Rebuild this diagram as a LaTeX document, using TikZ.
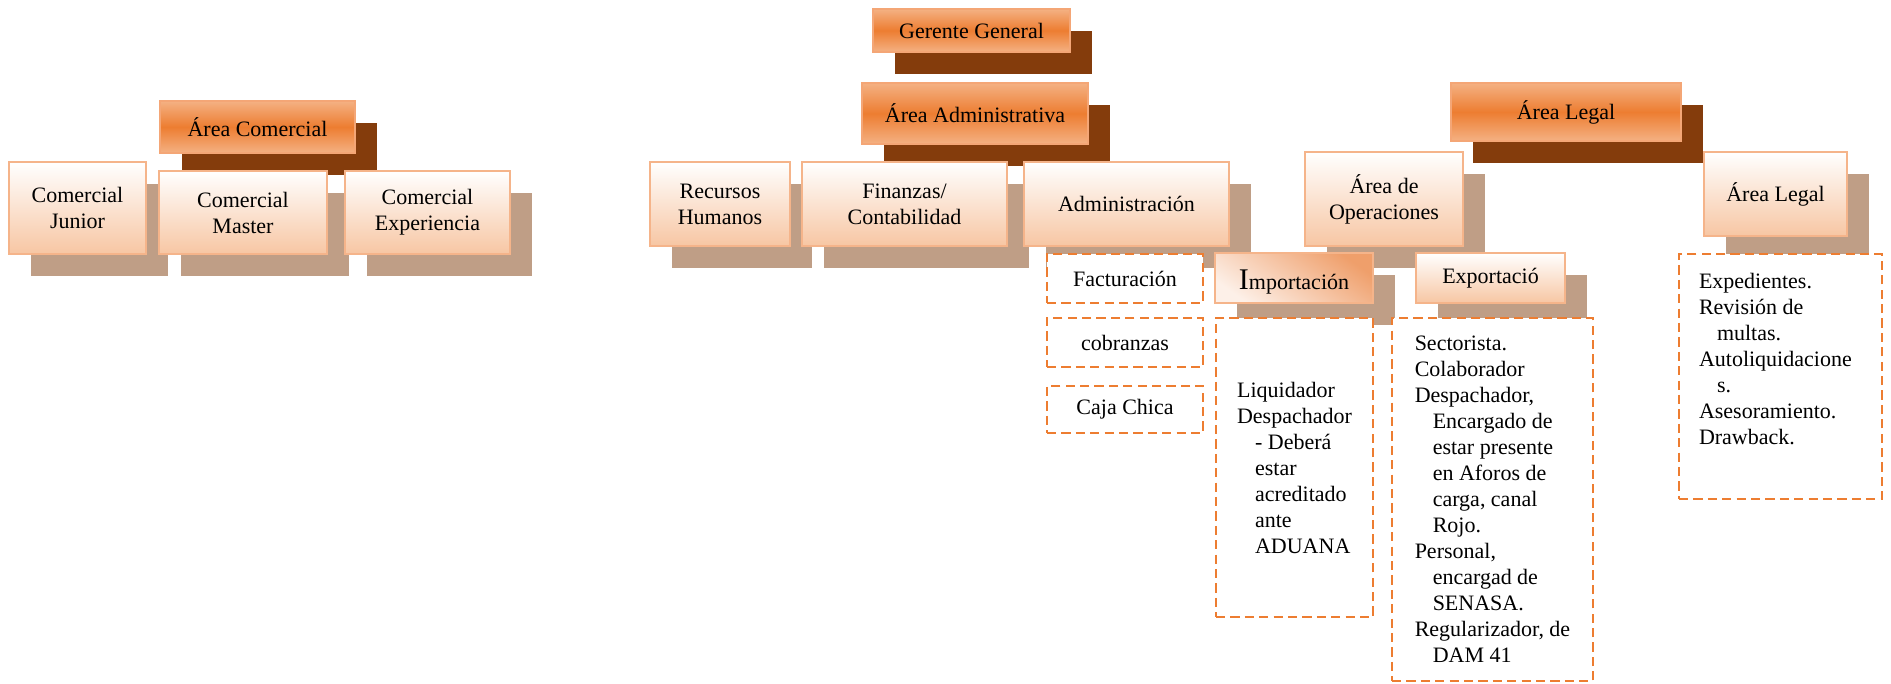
\documentclass[tikz,border=0pt]{standalone}
\usepackage{fontspec}
\setmainfont{Liberation Serif}
\usetikzlibrary{backgrounds}
\definecolor{hdrlight}{HTML}{F4B183}
\definecolor{hdrmid}{HTML}{ED7D31}
\definecolor{hdrline}{HTML}{F4A676}
\definecolor{subline}{HTML}{F5B48A}
\definecolor{subbot}{HTML}{F7C6A3}
\definecolor{imptop}{HTML}{EF9F6B}
\definecolor{impbot}{HTML}{FDF0E8}
\definecolor{darkshadow}{HTML}{843C0C}
\definecolor{lightshadow}{HTML}{BF9E86}
\definecolor{dashcol}{HTML}{ED7D31}
% box helper: style, name, x1, y1, x2, y2 (pixels), text
\newcommand\mybx[7]{%
  \pgfmathsetmacro\bxw{(#5-#3)*0.5}%
  \pgfmathsetmacro\bxh{(#6-#4)*0.5}%
  \pgfmathsetmacro\bxcx{(#3+#5)/2}%
  \pgfmathsetmacro\bxcy{(#4+#6)/2}%
  \node[#1, minimum width=\bxw pt, minimum height=\bxh pt] (#2) at (\bxcx,\bxcy) {#7};}
\begin{document}
\begin{tikzpicture}[x=0.5pt,y=-0.5pt,
  every node/.style={font=\fontsize{11}{13}\selectfont, inner sep=0pt, outer sep=0pt, align=center},
  hdrbox/.style={draw=hdrline, line width=1.4pt, top color=hdrlight, bottom color=hdrlight, middle color=hdrmid},
  subbox/.style={draw=subline, line width=1.2pt, top color=white, bottom color=subbot},
  impbox/.style={draw=subline, line width=1.2pt, top color=imptop, bottom color=impbot, shading angle=-35},
  dbox/.style={draw=dashcol, line width=1.3pt, dash pattern=on 4.6pt off 2.6pt, fill=white},
  darksh/.style={fill=darkshadow},
  lightsh/.style={fill=lightshadow}]
\useasboundingbox (0,0) rectangle (1891,684);
% top-level headers
\mybx{hdrbox}{gg}{873}{9}{1070}{52}{Gerente General}
\mybx{hdrbox}{aadm}{862}{83}{1088}{144}{Área Administrativa}
\mybx{hdrbox}{acom}{160}{101}{355}{153}{Área Comercial}
\mybx{hdrbox}{aleg}{1451}{83}{1681}{141}{Área Legal}
% second level
\mybx{subbox}{cjun}{9}{162}{146}{254}{Comercial\\Junior}
\mybx{subbox}{cmas}{159}{171}{327}{254}{Comercial\\Master}
\mybx{subbox}{cexp}{345}{171}{510}{254}{Comercial\\Experiencia}
\mybx{subbox}{rrhh}{650}{162}{790}{246}{Recursos\\Humanos}
\mybx{subbox}{fin}{802}{162}{1007}{246}{Finanzas/\\Contabilidad}
\mybx{subbox}{adm}{1024}{162}{1229}{246}{Administración}
\mybx{subbox}{oper}{1305}{152}{1463}{246}{Área de\\Operaciones}
\mybx{subbox}{leg2}{1704}{152}{1847}{236}{Área Legal}
\mybx{impbox}{imp}{1215}{253}{1373}{303}{\raisebox{0pt}[12pt][0pt]{{\fontsize{15}{15}\selectfont I}mportación}}
\mybx{subbox}{expo}{1416}{253}{1565}{303}{Exportació}
% dashed boxes
\mybx{dbox}{fact}{1047}{254}{1203}{303}{Facturación}
\mybx{dbox}{cob}{1047}{318}{1203}{367}{cobranzas}
\mybx{dbox}{caja}{1047}{386}{1203}{433}{Caja Chica}
\mybx{dbox, align=left}{impd}{1216}{318}{1373}{617}{Liquidador\\Despachador\\\hspace*{9pt}- Deberá\\\hspace*{9pt}estar\\\hspace*{9pt}acreditado\\\hspace*{9pt}ante\\\hspace*{9pt}ADUANA}
\mybx{dbox, align=left}{expd}{1392}{318}{1593}{681}{Sectorista.\\Colaborador\\Despachador,\\\hspace*{9pt}Encargado de\\\hspace*{9pt}estar presente\\\hspace*{9pt}en Aforos de\\\hspace*{9pt}carga, canal\\\hspace*{9pt}Rojo.\\Personal,\\\hspace*{9pt}encargad de\\\hspace*{9pt}SENASA.\\Regularizador, de\\\hspace*{9pt}DAM 41}
\mybx{dbox}{legd}{1679}{254}{1882}{499}{}
\node[anchor=north west, align=left] (legt) at (1699,273) {Expedientes.\\Revisión de\\\hspace*{9pt}multas.\\Autoliquidacione\\\hspace*{9pt}s.\\Asesoramiento.\\Drawback.};
% shadows
\begin{scope}[on background layer]
\foreach \n in {gg,aadm,acom,aleg}
  \fill[darksh] ([shift={(22,22)}]\n.north west) rectangle ([shift={(22,22)}]\n.south east);
\foreach \n in {cjun,cmas,cexp,rrhh,fin,adm,oper,leg2,imp,expo}
  \fill[lightsh] ([shift={(22,22)}]\n.north west) rectangle ([shift={(22,22)}]\n.south east);
\end{scope}
\end{tikzpicture}
\end{document}
